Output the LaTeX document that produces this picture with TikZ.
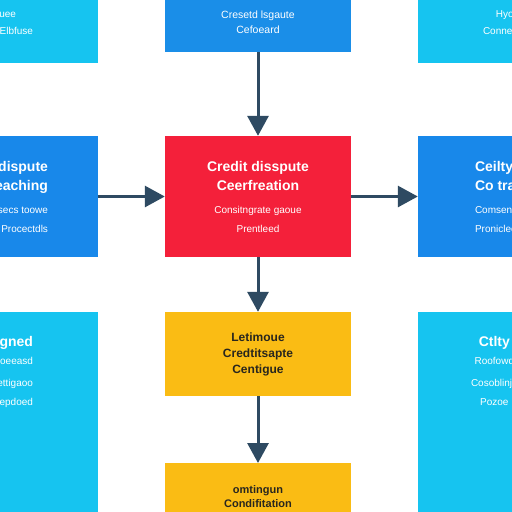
\documentclass[tikz,border=0pt]{standalone}
\usepackage{fontspec}
\setmainfont{Liberation Sans}
\usetikzlibrary{positioning}
\usetikzlibrary{arrows.meta}
\definecolor{topblue}{RGB}{26,142,232}
\definecolor{midblue}{RGB}{24,136,234}
\definecolor{skyblue}{RGB}{22,196,240}
\definecolor{certred}{RGB}{244,32,58}
\definecolor{contyellow}{RGB}{250,188,20}
\definecolor{linkcol}{RGB}{46,74,98}
\definecolor{darktext}{RGB}{40,38,30}
\newcommand{\headfont}{\fontsize{14}{19}\selectfont\bfseries}
\newcommand{\subfont}{\fontsize{10}{17}\selectfont\mdseries}
\newcommand{\yelfont}{\fontsize{12}{16}\selectfont\bfseries}
\tikzstyle{box} = [rectangle, inner sep=0pt, minimum width=186pt]
\tikzstyle{side} = [rectangle, inner sep=0pt, minimum width=176pt]
\tikzstyle{txt} = [inner sep=0pt, text=white, align=center]
\tikzstyle{link} = [-{Triangle[length=20pt,width=21pt]}, line width=3pt, draw=linkcol]

\begin{document}
\begin{tikzpicture}[x=1pt, y=-1pt]
                    \useasboundingbox (0,0) rectangle (512,512);
                    \clip (0,0) rectangle (512,512);
                    \fill[white] (0,0) rectangle (512,512);

                    % centre column
                    \node[box, fill=topblue, minimum height=60pt, txt, font=\fontsize{10.5}{15.5}\selectfont] (created) at (258,22)
                        {Cresetd lsgaute\\ Cefoeard};
                    \node[box, fill=certred, minimum height=121pt, txt, font=\headfont] (cert) at (258,196.5)
                        {Credit disspute\\ Ceerfreation\\[4pt] \subfont Consitngrate gaoue\\ \subfont Prentleed};
                    \node[box, fill=contyellow, minimum height=84pt, txt, text=darktext, font=\yelfont] (cont) at (258,354)
                        {Letimoue\\ Credtitsapte\\ Centigue};
                    \node[box, fill=contyellow, minimum height=80pt, anchor=north] (cond) at (258,463) {};
                    \node[txt, text=darktext, font=\fontsize{11}{14}\selectfont\bfseries, below=22pt of cond.north] (condtxt)
                        {omtingun\\ Condifitation};

                    % left column
                    \node[side, fill=skyblue, minimum height=80pt] (issue) at (10,23) {};
                    \node[txt, font=\subfont, left=65pt of issue.east] (issuetxt)
                        {Issuee\\ Crede Elbfuse};
                    \node[side, fill=midblue, minimum height=121pt] (reach) at (10,196.5) {};
                    \node[txt, align=right, font=\headfont, left=50pt of reach.east] (reachtxt)
                        {Credit dispute\\ Reaching\\[4pt] \subfont Cossecs toowe\\ \subfont Procectdls};
                    \node[side, fill=skyblue, minimum height=230pt, anchor=north] (sign) at (10,312) {};
                    \node[txt, align=right, font=\headfont, below left=24pt and 65pt of sign.north east] (signtxt)
                        {Signed\\[-1pt] \subfont Cr oeeasd\\[3pt] \subfont Conettigaoo\\ \subfont Repdoed};

                    % right column
                    \node[side, fill=skyblue, minimum height=80pt] (conn) at (506,23) {};
                    \node[txt, font=\subfont, right=65pt of conn.west] (conntxt)
                        {Hyoue\\ Conneration};
                    \node[side, fill=midblue, minimum height=121pt] (track) at (506,196.5) {};
                    \node[txt, align=left, font=\headfont, right=57pt of track.west] (tracktxt)
                        {Ceilty dispute\\ Co tracking\\[4pt] \subfont Comsentu gaoue\\ \subfont Proniclee};
                    \node[side, fill=skyblue, minimum height=230pt, anchor=north] (resol) at (506,312) {};
                    \node[txt, font=\headfont, below right=24pt and 53pt of resol.north west] (resoltxt)
                        {Ctlty\\[-1pt] \subfont Roofowd\\[3pt] \subfont Cosoblinje\\ \subfont Pozoe};

                    \draw[link] (created) -- (cert);
                    \draw[link] (reach) -- (cert);
                    \draw[link] (cert) -- (track);
                    \draw[link] (cert) -- (cont);
                    \draw[link] (cont) -- (cond);
                \end{tikzpicture}
\end{document}
